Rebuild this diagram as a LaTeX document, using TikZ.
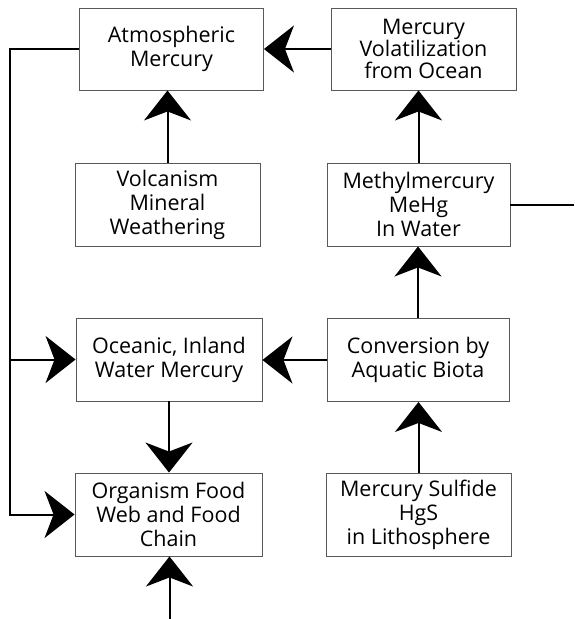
\documentclass[tikz,border=0pt]{standalone}
\usepackage{fontspec}
\setmainfont{Open Sans}
\usetikzlibrary{arrows.meta}
\begin{document}
\begin{tikzpicture}[x=1pt,y=-1pt,
  box/.style={draw=black!65, line width=0.9pt, fill=white, align=center,
    inner sep=0pt, minimum width=185pt, minimum height=83pt,
    font=\fontsize{21.5}{24}\selectfont},
  link/.style={line width=2pt, draw=black},
  arr/.style={link, -{Stealth[length=30pt, width=47pt, inset=9pt]}}]
\useasboundingbox (0,0) rectangle (574,619);

% boxes
\node[box, minimum width=184pt, minimum height=82pt] (atm) at (171.5,49) {Atmospheric\\Mercury};
\node[box, minimum height=82pt] (vol) at (423.5,49) {Mercury\\[-2pt]Volatilization\\[-2pt]from Ocean};
\node[box] (volc) at (167.5,204.5) {Volcanism\\Mineral\\Weathering};
\node[box, minimum width=183pt] (meth) at (418.5,204.5) {Methylmercury\\MeHg\\In Water};
\node[box, minimum width=186pt] (ocean) at (169,359.5) {Oceanic, Inland\\Water Mercury};
\node[box, minimum width=182pt] (conv) at (418,360) {Conversion by\\Aquatic Biota};
\node[box, minimum width=187pt] (org) at (168.5,514.5) {Organism Food\\Web and Food\\Chain};
\node[box] (sulf) at (418.5,514.5) {Mercury Sulfide\\HgS\\in Lithosphere};

% free ends
\coordinate (lx) at (10,0);
\coordinate (rx) at (574,0);
\coordinate (bot) at (169.5,619);

% right column, upward flow
\draw[arr] (sulf.north) -- (sulf.north |- conv.south);
\draw[arr] (conv.north) -- (conv.north |- meth.south);
\draw[arr] (meth.north) -- (meth.north |- vol.south);
\draw[arr] (vol.west) -- (vol.west -| atm.east);
\draw[link] (meth.east) -- (meth.east -| rx);

% left column
\draw[arr] (volc.north) -- (volc.north |- atm.south);
\draw[arr] (conv.west) -- (conv.west -| ocean.east);
\draw[arr] (ocean.south) -- (ocean.south |- org.north);
\draw[arr] (bot) -- (bot |- org.south);

% return loop from the atmosphere
\draw[arr] (atm.west) -- (lx |- atm.west) -- (lx |- org.west) -- (org.west);
\draw[arr] (lx |- ocean.west) -- (ocean.west);
\end{tikzpicture}
\end{document}
